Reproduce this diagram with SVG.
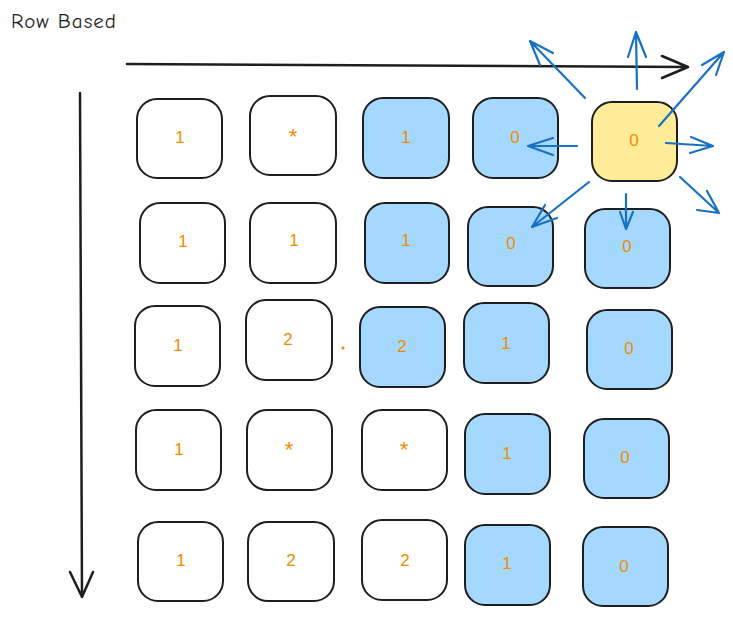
<svg xmlns="http://www.w3.org/2000/svg" width="733" height="618" viewBox="0 0 733 618">
<style>
.c{stroke:#1e1e1e;stroke-width:2;fill:#ffffff}
.b{fill:#a5d8ff}
.y{fill:#ffec99}
.t{font-family:"Liberation Sans","DejaVu Sans",sans-serif;font-size:17px;fill:#f08c00;text-anchor:middle;dominant-baseline:central}
.s{font-size:22px}
.k{fill:none;stroke:#1e1e1e;stroke-width:2.5;stroke-linecap:round;stroke-linejoin:round}
.a{fill:none;stroke:#1971c2;stroke-width:2.2;stroke-linecap:round;stroke-linejoin:round}
</style>
<rect width="733" height="618" fill="#ffffff"/>
<text x="11" y="28" font-family="'Comic Neue','DejaVu Sans',sans-serif" font-size="21" letter-spacing="1" fill="#1e1e1e">Row Based</text>

<g id="r1c1"><rect class="c" x="137" y="99" width="85" height="79" rx="20"/><text class="t" x="180" y="137">1</text></g>
<g id="r1c2"><rect class="c" x="250" y="96" width="86" height="79" rx="20"/><text class="t s" x="293" y="136">*</text></g>
<g id="r1c3"><rect class="c b" x="363" y="98" width="86" height="80" rx="20"/><text class="t" x="406" y="137">1</text></g>
<g id="r1c4"><rect class="c b" x="473" y="98" width="85" height="80" rx="20"/><text class="t" x="515" y="137">0</text></g>
<g id="r1c5"><rect class="c y" x="592" y="102" width="85" height="79" rx="20"/><text class="t" x="634" y="140">0</text></g>

<g id="r2c1"><rect class="c" x="140" y="203" width="85" height="80" rx="20"/><text class="t" x="183" y="241">1</text></g>
<g id="r2c2"><rect class="c" x="250" y="203" width="86" height="80" rx="20"/><text class="t" x="294" y="240">1</text></g>
<g id="r2c3"><rect class="c b" x="365" y="203" width="84" height="80" rx="20"/><text class="t" x="406" y="240">1</text></g>
<g id="r2c4"><rect class="c b" x="468" y="207" width="85" height="79" rx="20"/><text class="t" x="511" y="243">0</text></g>
<g id="r2c5"><rect class="c b" x="585" y="209" width="85" height="79" rx="20"/><text class="t" x="627" y="246">0</text></g>

<g id="r3c1"><rect class="c" x="135" y="306" width="85" height="80" rx="20"/><text class="t" x="178" y="345">1</text></g>
<g id="r3c2"><rect class="c" x="246" y="300" width="86" height="80" rx="20"/><text class="t" x="288" y="339">2</text></g>
<g id="dot"><circle cx="343" cy="348" r="1.5" fill="#f08c00"/></g>
<g id="r3c3"><rect class="c b" x="360" y="307" width="85" height="80" rx="20"/><text class="t" x="402" y="346">2</text></g>
<g id="r3c4"><rect class="c b" x="464" y="303" width="85" height="80" rx="20"/><text class="t" x="506" y="343">1</text></g>
<g id="r3c5"><rect class="c b" x="587" y="310" width="85" height="79" rx="20"/><text class="t" x="629" y="348">0</text></g>

<g id="r4c1"><rect class="c" x="136" y="410" width="85" height="80" rx="20"/><text class="t" x="179" y="449">1</text></g>
<g id="r4c2"><rect class="c" x="247" y="410" width="85" height="80" rx="20"/><text class="t s" x="289" y="449">*</text></g>
<g id="r4c3"><rect class="c" x="362" y="410" width="85" height="80" rx="20"/><text class="t s" x="404" y="449">*</text></g>
<g id="r4c4"><rect class="c b" x="465" y="414" width="85" height="80" rx="20"/><text class="t" x="507" y="453">1</text></g>
<g id="r4c5"><rect class="c b" x="584" y="419" width="85" height="79" rx="20"/><text class="t" x="625" y="457">0</text></g>

<g id="r5c1"><rect class="c" x="138" y="522" width="85" height="79" rx="20"/><text class="t" x="181" y="560">1</text></g>
<g id="r5c2"><rect class="c" x="248" y="522" width="86" height="79" rx="20"/><text class="t" x="291" y="560">2</text></g>
<g id="r5c3"><rect class="c" x="362" y="520" width="85" height="80" rx="20"/><text class="t" x="405" y="560">2</text></g>
<g id="r5c4"><rect class="c b" x="465" y="525" width="85" height="80" rx="20"/><text class="t" x="507" y="563">1</text></g>
<g id="r5c5"><rect class="c b" x="583" y="527" width="85" height="79" rx="20"/><text class="t" x="624" y="566">0</text></g>

<g id="connectors">
<path class="k" d="M127 64 L688 67 M662 56 L688 67 L662 78"/>
<path class="k" d="M80 93 L82 597 M70 572 L82 597 L93 572"/>
<path class="a" d="M585 98 L530 41 M540 65 L530 41 L553 53"/>
<path class="a" d="M637 89 L636 32 M628 57 L636 32 L646 57"/>
<path class="a" d="M659 126 L724 52 M702 65 L724 52 L716 75"/>
<path class="a" d="M666 143 L713 146 M691 137 L713 146 L690 153"/>
<path class="a" d="M680 177 L719 213 M707 191 L719 213 L697 210"/>
<path class="a" d="M626 194 L626 229 M620 212 L626 229 L633 212"/>
<path class="a" d="M589 182 L532 227 M545 205 L532 227 L557 218"/>
<path class="a" d="M577 146 L528 146 M553 138 L528 146 L553 155"/>
</g>
</svg>
